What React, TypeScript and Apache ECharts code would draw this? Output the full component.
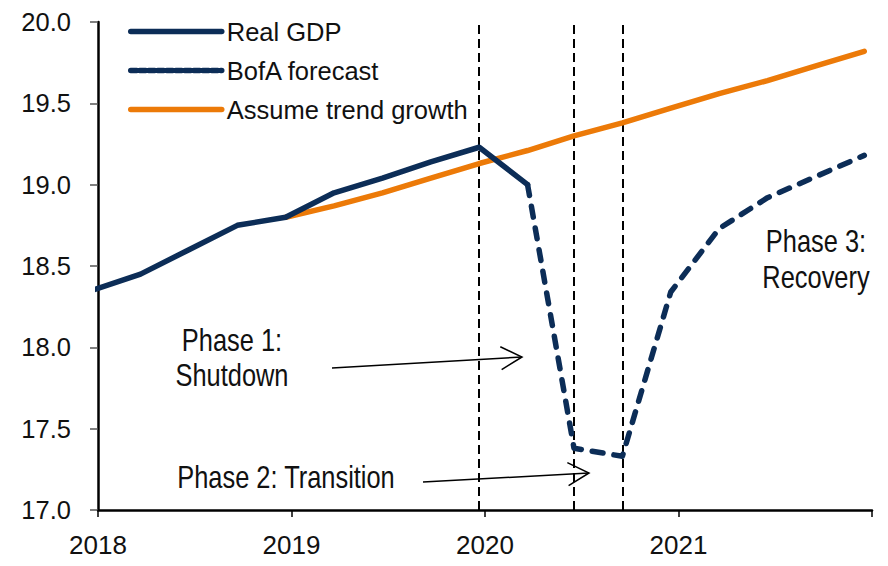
import React, { useEffect, useRef } from "react";
import * as echarts from "echarts";

// Data (x as fractional years)
const tickYears = [2018, 2019, 2020, 2021];
const realDates = [2017.97, 2018.22, 2018.47, 2018.72, 2018.97, 2019.22, 2019.47, 2019.72, 2019.97, 2020.22];
const realGdp = [18.35, 18.45, 18.6, 18.75, 18.8, 18.95, 19.04, 19.14, 19.23, 19.0];
const forecastDates = [2020.22, 2020.46, 2020.71, 2020.96, 2021.21, 2021.46, 2021.71, 2021.96];
const bofaForecast = [19.0, 17.38, 17.33, 18.34, 18.73, 18.92, 19.05, 19.18];
const trendDates = [2018.97, 2019.22, 2019.47, 2019.72, 2019.97, 2020.22, 2020.46, 2020.71, 2020.96, 2021.21, 2021.46, 2021.71, 2021.96];
const trendGrowth = [18.8, 18.87, 18.95, 19.04, 19.13, 19.21, 19.3, 19.38, 19.47, 19.56, 19.64, 19.73, 19.82];
const phaseDates = [2019.97, 2020.46, 2020.71];
const seriesNames = ["Real GDP", "BofA forecast", "Assume trend growth"];

const FONT = "'Liberation Sans Narrow', 'Arial Narrow', 'Liberation Sans', Arial, sans-serif";
const NAVY = "#0c2d57";
const ORANGE = "#ec7a08";
const TEXT = "#111111";

const zip = (xs: number[], ys: number[]) => xs.map((x, i) => [x, ys[i]]);

function arrow(x1: number, y1: number, x2: number, y2: number) {
  const ang = Math.atan2(y2 - y1, x2 - x1);
  const L = 24;
  const spread = 0.5;
  const a1 = [x2 - L * Math.cos(ang - spread), y2 - L * Math.sin(ang - spread)];
  const a2 = [x2 - L * Math.cos(ang + spread), y2 - L * Math.sin(ang + spread)];
  const st = { stroke: "#000", lineWidth: 1.5, fill: null };
  return [
    { type: "line", shape: { x1, y1, x2, y2 }, style: st, silent: true },
    { type: "polyline", shape: { points: [a1, [x2, y2], a2] }, style: st, silent: true },
  ];
}

function note(text: string, x: number, y: number, lineHeight = 35) {
  return {
    type: "text",
    x,
    y,
    scaleX: 0.82,
    silent: true,
    style: {
      text,
      fontFamily: FONT,
      fontSize: 31,
      lineHeight,
      fill: TEXT,
      align: "center",
      verticalAlign: "middle",
    },
  };
}

export default function App() {
  const ref = useRef<HTMLDivElement>(null);
  useEffect(() => {
    if (!ref.current) return;
    const chart = echarts.init(ref.current, undefined, { renderer: "svg" });
    chart.setOption({
      animation: false,
      backgroundColor: "#ffffff",
      textStyle: { fontFamily: FONT },
      grid: { left: 98, right: 16, top: 22, bottom: 56, containLabel: false },
      legend: {
        orient: "vertical",
        left: 128,
        top: 16,
        padding: 0,
        itemWidth: 91,
        itemHeight: 5,
        itemGap: 8,
        itemStyle: { opacity: 0 },
        lineStyle: { width: 5.5 },
        textStyle: { fontFamily: FONT, fontSize: 25.5, color: TEXT, lineHeight: 31 },
        data: [
          { name: seriesNames[0] },
          { name: seriesNames[1], lineStyle: { type: [6, 3] } },
          { name: seriesNames[2] },
        ],
      },
      xAxis: {
        type: "value",
        min: 2018,
        max: 2022,
        interval: 1,
        splitLine: { show: false },
        axisLine: { lineStyle: { color: "#000", width: 2.5 } },
        axisTick: { show: true, length: 7, lineStyle: { color: "#000", width: 1.5 } },
        axisLabel: {
          margin: 22,
          fontSize: 26,
          fontFamily: FONT,
          color: TEXT,
          formatter: (v: number) => (tickYears.includes(Math.round(v)) ? String(Math.round(v)) : ""),
        },
      },
      yAxis: {
        type: "value",
        min: 17,
        max: 20,
        interval: 0.5,
        splitLine: { show: false },
        axisLine: { show: true, lineStyle: { color: "#000", width: 2.5 } },
        axisTick: { show: true, length: 8, lineStyle: { color: "#555", width: 1.5 } },
        axisLabel: {
          margin: 27,
          fontSize: 25.5,
          fontFamily: FONT,
          color: TEXT,
          formatter: (v: number) => v.toFixed(1),
        },
      },
      series: [
        {
          name: seriesNames[0],
          type: "line",
          data: zip(realDates, realGdp),
          symbol: "none",
          lineStyle: { color: NAVY, width: 5.5, cap: "round", join: "round" },
          itemStyle: { color: NAVY },
          z: 3,
          markLine: {
            silent: true,
            symbol: "none",
            label: { show: false },
            lineStyle: { color: "#000", width: 2, type: [9, 5] },
            data: phaseDates.map((d) => ({ xAxis: d })),
            z: 1,
          },
        },
        {
          name: seriesNames[1],
          type: "line",
          data: zip(forecastDates, bofaForecast),
          symbol: "none",
          lineStyle: { color: NAVY, width: 5.5, type: [11, 11], cap: "round", join: "round" },
          itemStyle: { color: NAVY },
          z: 3,
        },
        {
          name: seriesNames[2],
          type: "line",
          data: zip(trendDates, trendGrowth),
          symbol: "none",
          lineStyle: { color: ORANGE, width: 5.5, cap: "round", join: "round" },
          itemStyle: { color: ORANGE },
          z: 2,
        },
      ],
      graphic: [
        note("Phase 1:\nShutdown", 232, 358, 35),
        note("Phase 2: Transition", 286, 477),
        note("Phase 3:\nRecovery", 816, 259, 36),
        ...arrow(332, 368, 522, 357),
        ...arrow(423, 482, 589, 473),
      ],
    });
    return () => chart.dispose();
  }, []);
  return <div ref={ref} style={{ position: "absolute", left: 0, top: 0, width: 888, height: 566 }} />;
}
